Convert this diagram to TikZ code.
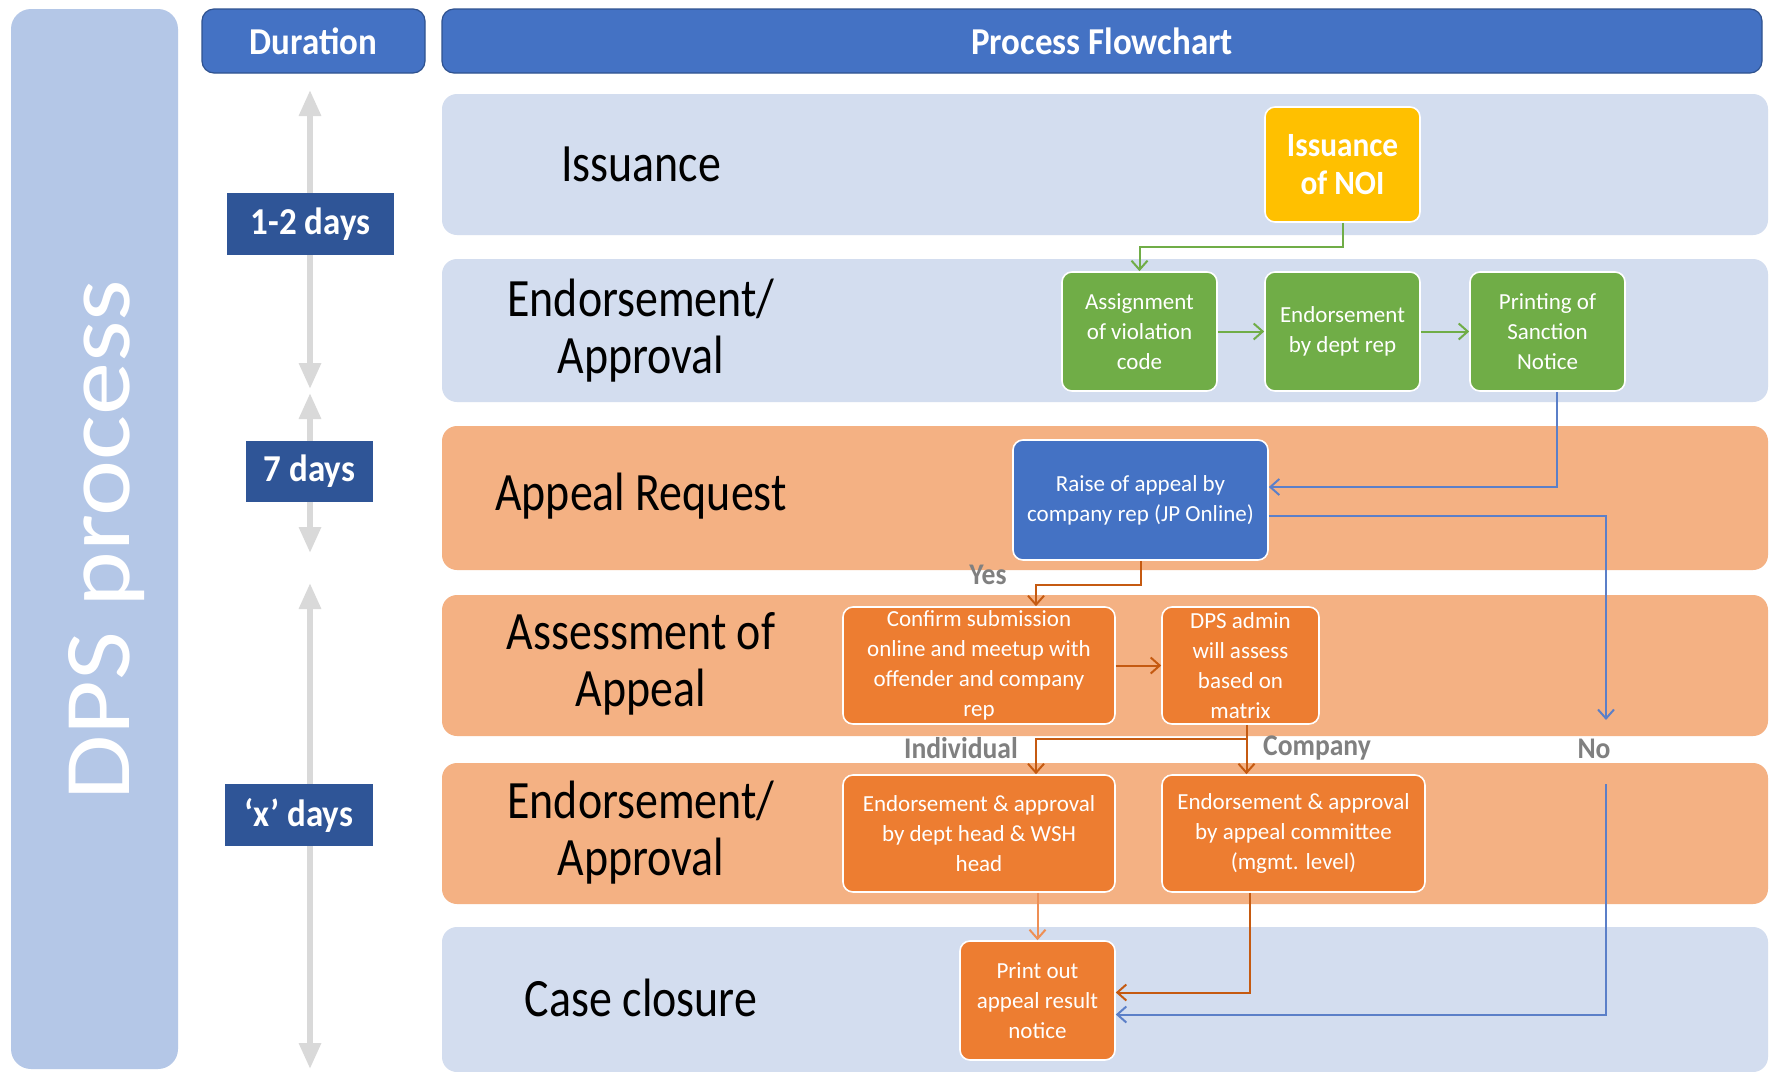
\documentclass[tikz,border=0pt]{standalone}
\usepackage{fontspec}
\setmainfont{Carlito}
\newfontfamily\lanefont{Carlito}[FakeStretch=0.85]
\newfontfamily\hdrfont{Carlito}[FakeStretch=0.92]
\newfontfamily\dpsfont{Carlito}[FakeStretch=1.13]
\usetikzlibrary{arrows.meta}
\definecolor{lanebl}{HTML}{D3DDEF}
\definecolor{laneor}{HTML}{F4B183}
\definecolor{dpsbg}{HTML}{B4C7E7}
\definecolor{hdrbl}{HTML}{4472C4}
\definecolor{hdrdk}{HTML}{2F528F}
\definecolor{durbl}{HTML}{2F5597}
\definecolor{durgr}{HTML}{D9D9D9}
\definecolor{noiyel}{HTML}{FFC000}
\definecolor{grn}{HTML}{70AD47}
\definecolor{orn}{HTML}{ED7D31}
\definecolor{orndk}{HTML}{C55A11}
\definecolor{ornlt}{HTML}{EE8F55}
\definecolor{lblgr}{HTML}{808080}
\definecolor{conbl}{HTML}{5B7FC8}
\begin{document}
\begin{tikzpicture}[x=0.5pt,y=-0.5pt,
  lanelabel/.style={font=\lanefont\fontsize{27}{28.5}\selectfont, align=center, text=black, inner sep=0pt},
  proc/.style={rounded corners=5pt, draw=white, line width=0.8pt, text=white, align=center, inner sep=0pt,
    font=\fontsize{11.5}{15}\selectfont},
  grnbox/.style={proc, fill=grn},
  orbox/.style={proc, fill=orn},
  blbox/.style={proc, fill=hdrbl},
  yelbox/.style={proc, fill=noiyel, font=\hdrfont\bfseries\fontsize{17}{19}\selectfont},
  hdr/.style={rounded corners=6pt, fill=hdrbl, draw=hdrdk, line width=0.6pt, text=white, inner sep=0pt,
    font=\hdrfont\bfseries\fontsize{19}{22}\selectfont},
  durbox/.style={fill=durbl, text=white, inner sep=0pt, font=\hdrfont\bfseries\fontsize{19}{22}\selectfont},
  durarr/.style={draw=durgr, line width=3pt, {Triangle[width=10.5pt,length=13pt]}-{Triangle[width=10.5pt,length=13pt]}},
  conn/.style={line width=1pt, -{Straight Barb[length=4.5pt,width=8pt]}},
  gconn/.style={conn, draw=grn},
  bconn/.style={conn, draw=conbl},
  oconn/.style={conn, draw=orndk},
  oltconn/.style={conn, draw=ornlt},
  lbl/.style={text=lblgr, inner sep=0pt, font=\hdrfont\bfseries\fontsize{15}{17}\selectfont}
]
\useasboundingbox (0,0) rectangle (1769,1072);
\fill[white] (0,0) rectangle (1769,1072);

% left band
\fill[dpsbg, rounded corners=10pt] (11,9) rectangle (178,1069);
\node[font=\dpsfont\fontsize{47}{50}\selectfont, text=white, rotate=90, anchor=base, inner sep=0pt] (dps) at (129,540) {DPS process};

% headers
\node[hdr, minimum width=111.5pt, minimum height=32pt] (dur) at (313.5,41) {Duration};
\node[hdr, minimum width=660pt, minimum height=32pt] (pf) at (1102,41) {Process Flowchart};

% lanes
\fill[lanebl, rounded corners=7.5pt] (442,94) rectangle (1768,235);
\fill[lanebl, rounded corners=7.5pt] (442,259) rectangle (1768,402);
\fill[laneor, rounded corners=7.5pt] (442,426) rectangle (1768,570);
\fill[laneor, rounded corners=7.5pt] (442,595) rectangle (1768,736);
\fill[laneor, rounded corners=7.5pt] (442,763) rectangle (1768,904);
\fill[lanebl, rounded corners=7.5pt] (442,927) rectangle (1768,1072);

\node[lanelabel] (l1) at (641,164) {Issuance};
\node[lanelabel] (l2) at (641,331) {Endorsement/\\Approval};
\node[lanelabel] (l3) at (641,496) {Appeal Request};
\node[lanelabel] (l4) at (641,664) {Assessment of\\Appeal};
\node[lanelabel] (l5) at (641,833) {Endorsement/\\Approval};
\node[lanelabel] (l6) at (641,998) {Case closure};

% duration arrows
\coordinate (a1t) at (310,90);  \coordinate (a1b) at (310,389);
\coordinate (a2t) at (310,393); \coordinate (a2b) at (310,553);
\coordinate (a3t) at (310,583); \coordinate (a3b) at (310,1069);
\draw[durarr] (a1t) -- (a1b);
\draw[durarr] (a2t) -- (a2b);
\draw[durarr] (a3t) -- (a3b);
\node[durbox, minimum width=83.5pt, minimum height=31pt] (d12) at (310.5,224) {1-2 days};
\node[durbox, minimum width=63.5pt, minimum height=30.5pt] (d7) at (309.5,471.5) {7 days};
\node[durbox, minimum width=74pt, minimum height=31pt] (dx) at (299,815) {‘x’ days};

% process nodes
\node[yelbox, minimum width=77.5pt, minimum height=57.5pt] (noi) at (1342.5,164.5) {Issuance\\of NOI};
\node[grnbox, minimum width=77.5pt, minimum height=59.5pt] (asg) at (1139.5,331.5) {Assignment\\of violation\\code};
\node[grnbox, minimum width=77.5pt, minimum height=59.5pt] (edr) at (1342.5,331.5) {Endorsement\\by dept rep};
\node[grnbox, minimum width=77.5pt, minimum height=59.5pt] (prt) at (1547.5,331.5) {Printing of\\Sanction\\Notice};
\node[blbox, minimum width=127.5pt, minimum height=60pt] (rai) at (1140.5,500) {Raise of appeal by\\company rep (JP Online)};
\node[orbox, minimum width=136pt, minimum height=58.5pt] (cnf) at (979,665.5) {Confirm submission\\online and meetup with\\offender and company\\rep};
\node[orbox, minimum width=78.5pt, minimum height=58.5pt] (adm) at (1240.5,665.5) {DPS admin\\will assess\\based on\\matrix};
\node[orbox, minimum width=136pt, minimum height=58.5pt] (edh) at (979,833.5) {Endorsement \& approval\\by dept head \& WSH\\head};
\node[orbox, minimum width=131.5pt, minimum height=58.5pt] (com) at (1293.5,833.5) {Endorsement \& approval\\by appeal committee\\(mgmt. level)};
\node[orbox, minimum width=77.5pt, minimum height=59.5pt] (pro) at (1037.5,1000.5) {Print out\\appeal result\\notice};

% labels
\node[lbl] (yes) at (988,575) {Yes};
\node[lbl] (ind) at (961,748) {Individual};
\node[lbl] (cmp) at (1317,748) {Company};
\node[lbl] (no) at (1594,749) {No};

% connectors
\draw[gconn] (noi.south) -- ++(0,24) -| (asg.north);
\draw[gconn] (asg.east) -- (edr.west);
\draw[gconn] (edr.east) -- (prt.west);
\draw[bconn] ([xshift=4.75pt]prt.south) |- ([yshift=6.5pt]rai.east);
\coordinate (noend) at (1606,720);
\coordinate (nostart) at (1606,784);
\draw[bconn] ([yshift=-8pt]rai.east) -| (noend);
\draw[bconn] (nostart) |- ([yshift=-7pt]pro.east);
\draw[oconn] (rai.south) -- ++(0,24) -| ([xshift=28.5pt]cnf.north);
\draw[oconn] (cnf.east) -- (adm.west);
\coordinate (split) at ([xshift=3pt,yshift=-7pt]adm.south);
\draw[orndk, line width=1pt] ([xshift=3pt]adm.south) -- (split);
\draw[oconn] (split) -| ([xshift=28.5pt]edh.north);
\draw[oconn] (split) -- (split |- com.north);
\draw[oltconn] (pro.north |- edh.south) -- (pro.north);
\draw[oconn] ([xshift=-22pt]com.south) |- ([yshift=4pt]pro.east);
\end{tikzpicture}
\end{document}
